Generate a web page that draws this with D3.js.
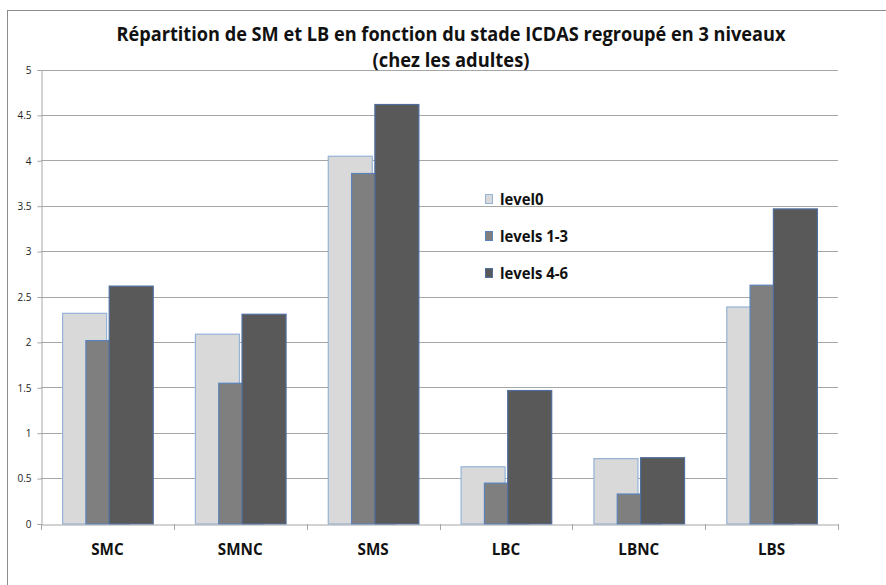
<!DOCTYPE html>
<html>
<head>
<meta charset="utf-8">
<script src="https://cdn.jsdelivr.net/npm/d3@7"></script>
<style>
  html, body { margin: 0; padding: 0; background: #fff; }
  svg { display: block; }
</style>
</head>
<body>
<script>
// Categories and series
const categories = ["SMC", "SMNC", "SMS", "LBC", "LBNC", "LBS"];
const seriesNames = ["level0", "levels 1-3", "levels 4-6"];
const level0 = [2.32, 2.09, 4.05, 0.63, 0.72, 2.39];
const levels13 = [2.02, 1.55, 3.86, 0.45, 0.33, 2.63];
const levels46 = [2.62, 2.31, 4.62, 1.47, 0.73, 3.47];
const yTicks = [0, 0.5, 1, 1.5, 2, 2.5, 3, 3.5, 4, 4.5, 5];
const titleLines = ["Répartition de SM et LB en fonction du stade ICDAS regroupé en 3 niveaux", "(chez les adultes)"];

const series = [level0, levels13, levels46];
const fills = ["#d9d9d9", "#7f7f7f", "#595959"];
const strokes = ["#95b3d7", "#5b82bb", "#4f6f9f"];

const W = 886, H = 585;
const plot = { left: 41, right: 838, top: 69.5, bottom: 523.5 };
const font = "'Open Sans', sans-serif";

const svg = d3.select("body").append("svg").attr("width", W).attr("height", H);

// Condense a bold text element horizontally, the way a narrow face would set it
function condense(sel, ratio) {
  sel.each(function () {
    const len = this.getComputedTextLength();
    d3.select(this).attr("textLength", len * ratio).attr("lengthAdjust", "spacingAndGlyphs");
  });
}

// Chart frame
svg.append("rect")
  .attr("x", 7.5).attr("y", 10.5).attr("width", 900).attr("height", 600)
  .attr("fill", "none").attr("stroke", "#8c8c8c").attr("stroke-width", 1);

const x = d3.scaleBand().domain(categories).range([plot.left, plot.right]).padding(0);
const y = d3.scaleLinear().domain([0, 5]).range([plot.bottom, plot.top]);

// Horizontal gridlines
svg.append("g").selectAll("line").data(yTicks.filter(d => d > 0)).join("line")
  .attr("x1", plot.left).attr("x2", plot.right)
  .attr("y1", d => Math.round(y(d)) + 0.5).attr("y2", d => Math.round(y(d)) + 0.5)
  .attr("stroke", "#a6a6a6").attr("stroke-width", 1);

// Y axis
const yAxis = d3.axisLeft(y).tickValues(yTicks).tickSize(4).tickPadding(6)
  .tickFormat(d3.format("~g"));
const gy = svg.append("g").attr("transform", `translate(${plot.left + 0.5},0.5)`).call(yAxis);
gy.select(".domain").attr("stroke", "#a6a6a6");
gy.selectAll(".tick line").attr("stroke", "#a6a6a6");
gy.selectAll(".tick text").attr("font-family", font)
  .attr("font-size", 10).attr("fill", "#222");

// Bars: three overlapping columns per category
const barW = 44, step = 23.3;
const groupW = barW + 2 * step;
series.forEach((vals, si) => {
  svg.append("g").selectAll("rect").data(vals).join("rect")
    .attr("x", (d, i) => x(categories[i]) + (x.bandwidth() - groupW) / 2 + si * step + 0.5)
    .attr("y", d => y(d) + 0.5)
    .attr("width", barW)
    .attr("height", d => plot.bottom - y(d))
    .attr("fill", fills[si])
    .attr("stroke", strokes[si])
    .attr("stroke-width", 1.2);
});

// X axis
const xAxis = d3.axisBottom(x).tickSize(0).tickPadding(19);
const gx = svg.append("g").attr("transform", `translate(0,${Math.round(plot.bottom) + 0.5})`).call(xAxis);
gx.select(".domain").attr("stroke", "#a6a6a6");
gx.selectAll(".tick text").attr("font-family", font)
  .attr("font-size", 16).attr("font-weight", "bold").attr("fill", "#111")
  .call(condense, 0.95);
// Category separators
svg.append("g").selectAll("line").data(d3.range(categories.length + 1)).join("line")
  .attr("x1", i => Math.round(plot.left + i * x.step()) + 0.5)
  .attr("x2", i => Math.round(plot.left + i * x.step()) + 0.5)
  .attr("y1", Math.round(plot.bottom)).attr("y2", Math.round(plot.bottom) + 6)
  .attr("stroke", "#a6a6a6");

// Title
svg.append("text").attr("x", 451).attr("y", 41).attr("text-anchor", "middle")
  .attr("font-family", font).attr("font-size", 19)
  .attr("font-weight", "bold").attr("fill", "#111")
  .attr("textLength", 669).attr("lengthAdjust", "spacingAndGlyphs")
  .text(titleLines[0]);
svg.append("text").attr("x", 451).attr("y", 67).attr("text-anchor", "middle")
  .attr("font-family", font).attr("font-size", 19)
  .attr("font-weight", "bold").attr("fill", "#111")
  .attr("textLength", 157).attr("lengthAdjust", "spacingAndGlyphs")
  .text(titleLines[1]);

// Legend
const legendY = [199, 236, 273];
const lg = svg.append("g");
seriesNames.forEach((name, i) => {
  lg.append("rect").attr("x", 485.5).attr("y", legendY[i] - 4.5)
    .attr("width", 7).attr("height", 9)
    .attr("fill", fills[i]).attr("stroke", strokes[i]).attr("stroke-width", 1);
  lg.append("text").attr("x", 500).attr("y", legendY[i] + 6)
    .attr("font-family", font).attr("font-size", 16.5)
    .attr("font-weight", "bold").attr("fill", "#111")
    .text(name)
    .call(condense, 0.9);
});
</script>
</body>
</html>
